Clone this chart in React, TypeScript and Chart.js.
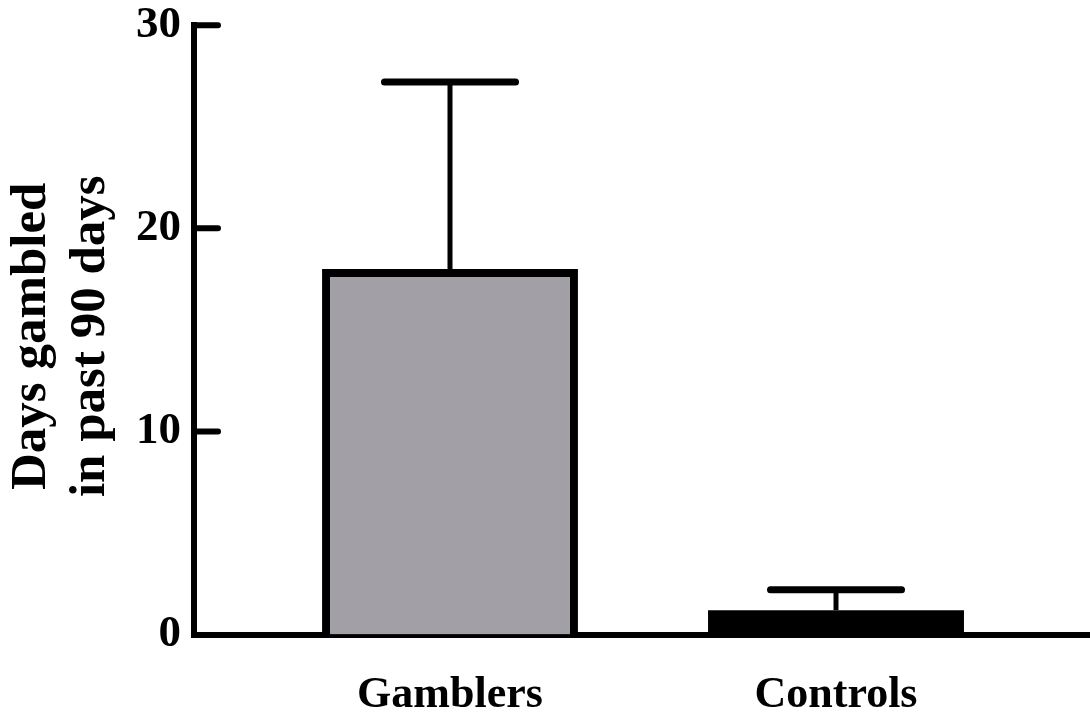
import React, { useEffect, useRef } from 'react';
import { Chart, registerables } from 'chart.js';

Chart.register(...registerables);

const categories = ['Gamblers', 'Controls'];
const means = [18.0, 1.2];
const errorTops = [27.2, 2.2];
const barFills = ['#A2A0A6', '#000000'];
const yTitle = ['Days gambled ', 'in past 90 days '];

const FONT = "'Liberation Serif', 'Times New Roman', serif";

const errorBarPlugin = {
  id: 'errorBars',
  afterDatasetsDraw(chart: any) {
    const { ctx } = chart;
    const meta = chart.getDatasetMeta(0);
    const y = chart.scales.y;
    ctx.save();
    ctx.strokeStyle = '#000';
    meta.data.forEach((bar: any, i: number) => {
      const top = y.getPixelForValue(errorTops[i]);
      const base = y.getPixelForValue(means[i]);
      const x = bar.x;
      const half = bar.width * 0.256;
      ctx.lineWidth = 5;
      ctx.lineCap = 'butt';
      ctx.beginPath();
      ctx.moveTo(x, base);
      ctx.lineTo(x, top);
      ctx.stroke();
      ctx.lineWidth = 7;
      ctx.lineCap = 'round';
      ctx.beginPath();
      ctx.moveTo(x - half, top);
      ctx.lineTo(x + half, top);
      ctx.stroke();
    });
    ctx.restore();
  },
};

const innerTicksPlugin = {
  id: 'innerTicks',
  afterDraw(chart: any) {
    const { ctx, chartArea } = chart;
    const y = chart.scales.y;
    ctx.save();
    ctx.strokeStyle = '#000';
    ctx.lineWidth = 6;
    ctx.lineCap = 'round';
    y.ticks.forEach((t: any) => {
      if (t.value === 0) return;
      const py = y.getPixelForValue(t.value);
      ctx.beginPath();
      ctx.moveTo(chartArea.left, py);
      ctx.lineTo(chartArea.left + 24, py);
      ctx.stroke();
    });
    ctx.restore();
  },
};

export default function App() {
  const ref = useRef<HTMLCanvasElement | null>(null);

  useEffect(() => {
    document.body.style.margin = '0';
    const canvas = ref.current;
    if (!canvas) return;
    const chart = new Chart(canvas, {
      type: 'bar',
      data: {
        datasets: [
          {
            data: categories.map((_, i) => ({ x: i + 1, y: means[i] })),
            backgroundColor: barFills,
            borderColor: '#000',
            borderWidth: [8, 0],
            barPercentage: 0.663,
            categoryPercentage: 1,
          },
        ],
      },
      options: {
        animation: false,
        responsive: false,
        devicePixelRatio: 1,
        layout: { padding: 0 },
        plugins: { legend: { display: false }, tooltip: { enabled: false } },
        scales: {
          x: {
            type: 'linear',
            offset: false,
            min: 0.3368,
            max: 2.658,
            afterBuildTicks: (s: any) => {
              s.ticks = categories.map((_, i) => ({ value: i + 1 }));
            },
            afterFit: (s: any) => {
              s.height = 82.5;
            },
            ticks: {
              callback: (_v: any, index: number) => categories[index] ?? '',
              font: { family: FONT, size: 44, weight: 'bold' },
              color: '#000',
              padding: 27,
              autoSkip: false,
              maxRotation: 0,
            },
            grid: { display: false },
            border: { display: true, color: '#000', width: 6 },
          },
          y: {
            min: 0,
            max: 30,
            afterFit: (s: any) => {
              s.width = 194;
            },
            ticks: {
              stepSize: 10,
              font: { family: FONT, size: 45, weight: 'bold', lineHeight: 0.9 },
              color: '#000',
              padding: 5,
            },
            grid: { display: false },
            border: { display: true, color: '#000', width: 6 },
            title: {
              display: true,
              text: yTitle,
              font: { family: FONT, size: 51, weight: 'bold', lineHeight: 1.15 },
              color: '#000',
              padding: { top: 3, bottom: 0 },
            },
          },
        },
      },
      plugins: [errorBarPlugin, innerTicksPlugin],
    } as any);
    return () => chart.destroy();
  }, []);

  return (
    <div style={{ width: 1090, height: 717 }}>
      <canvas ref={ref} width={1090} height={717} style={{ display: 'block' }} />
    </div>
  );
}
